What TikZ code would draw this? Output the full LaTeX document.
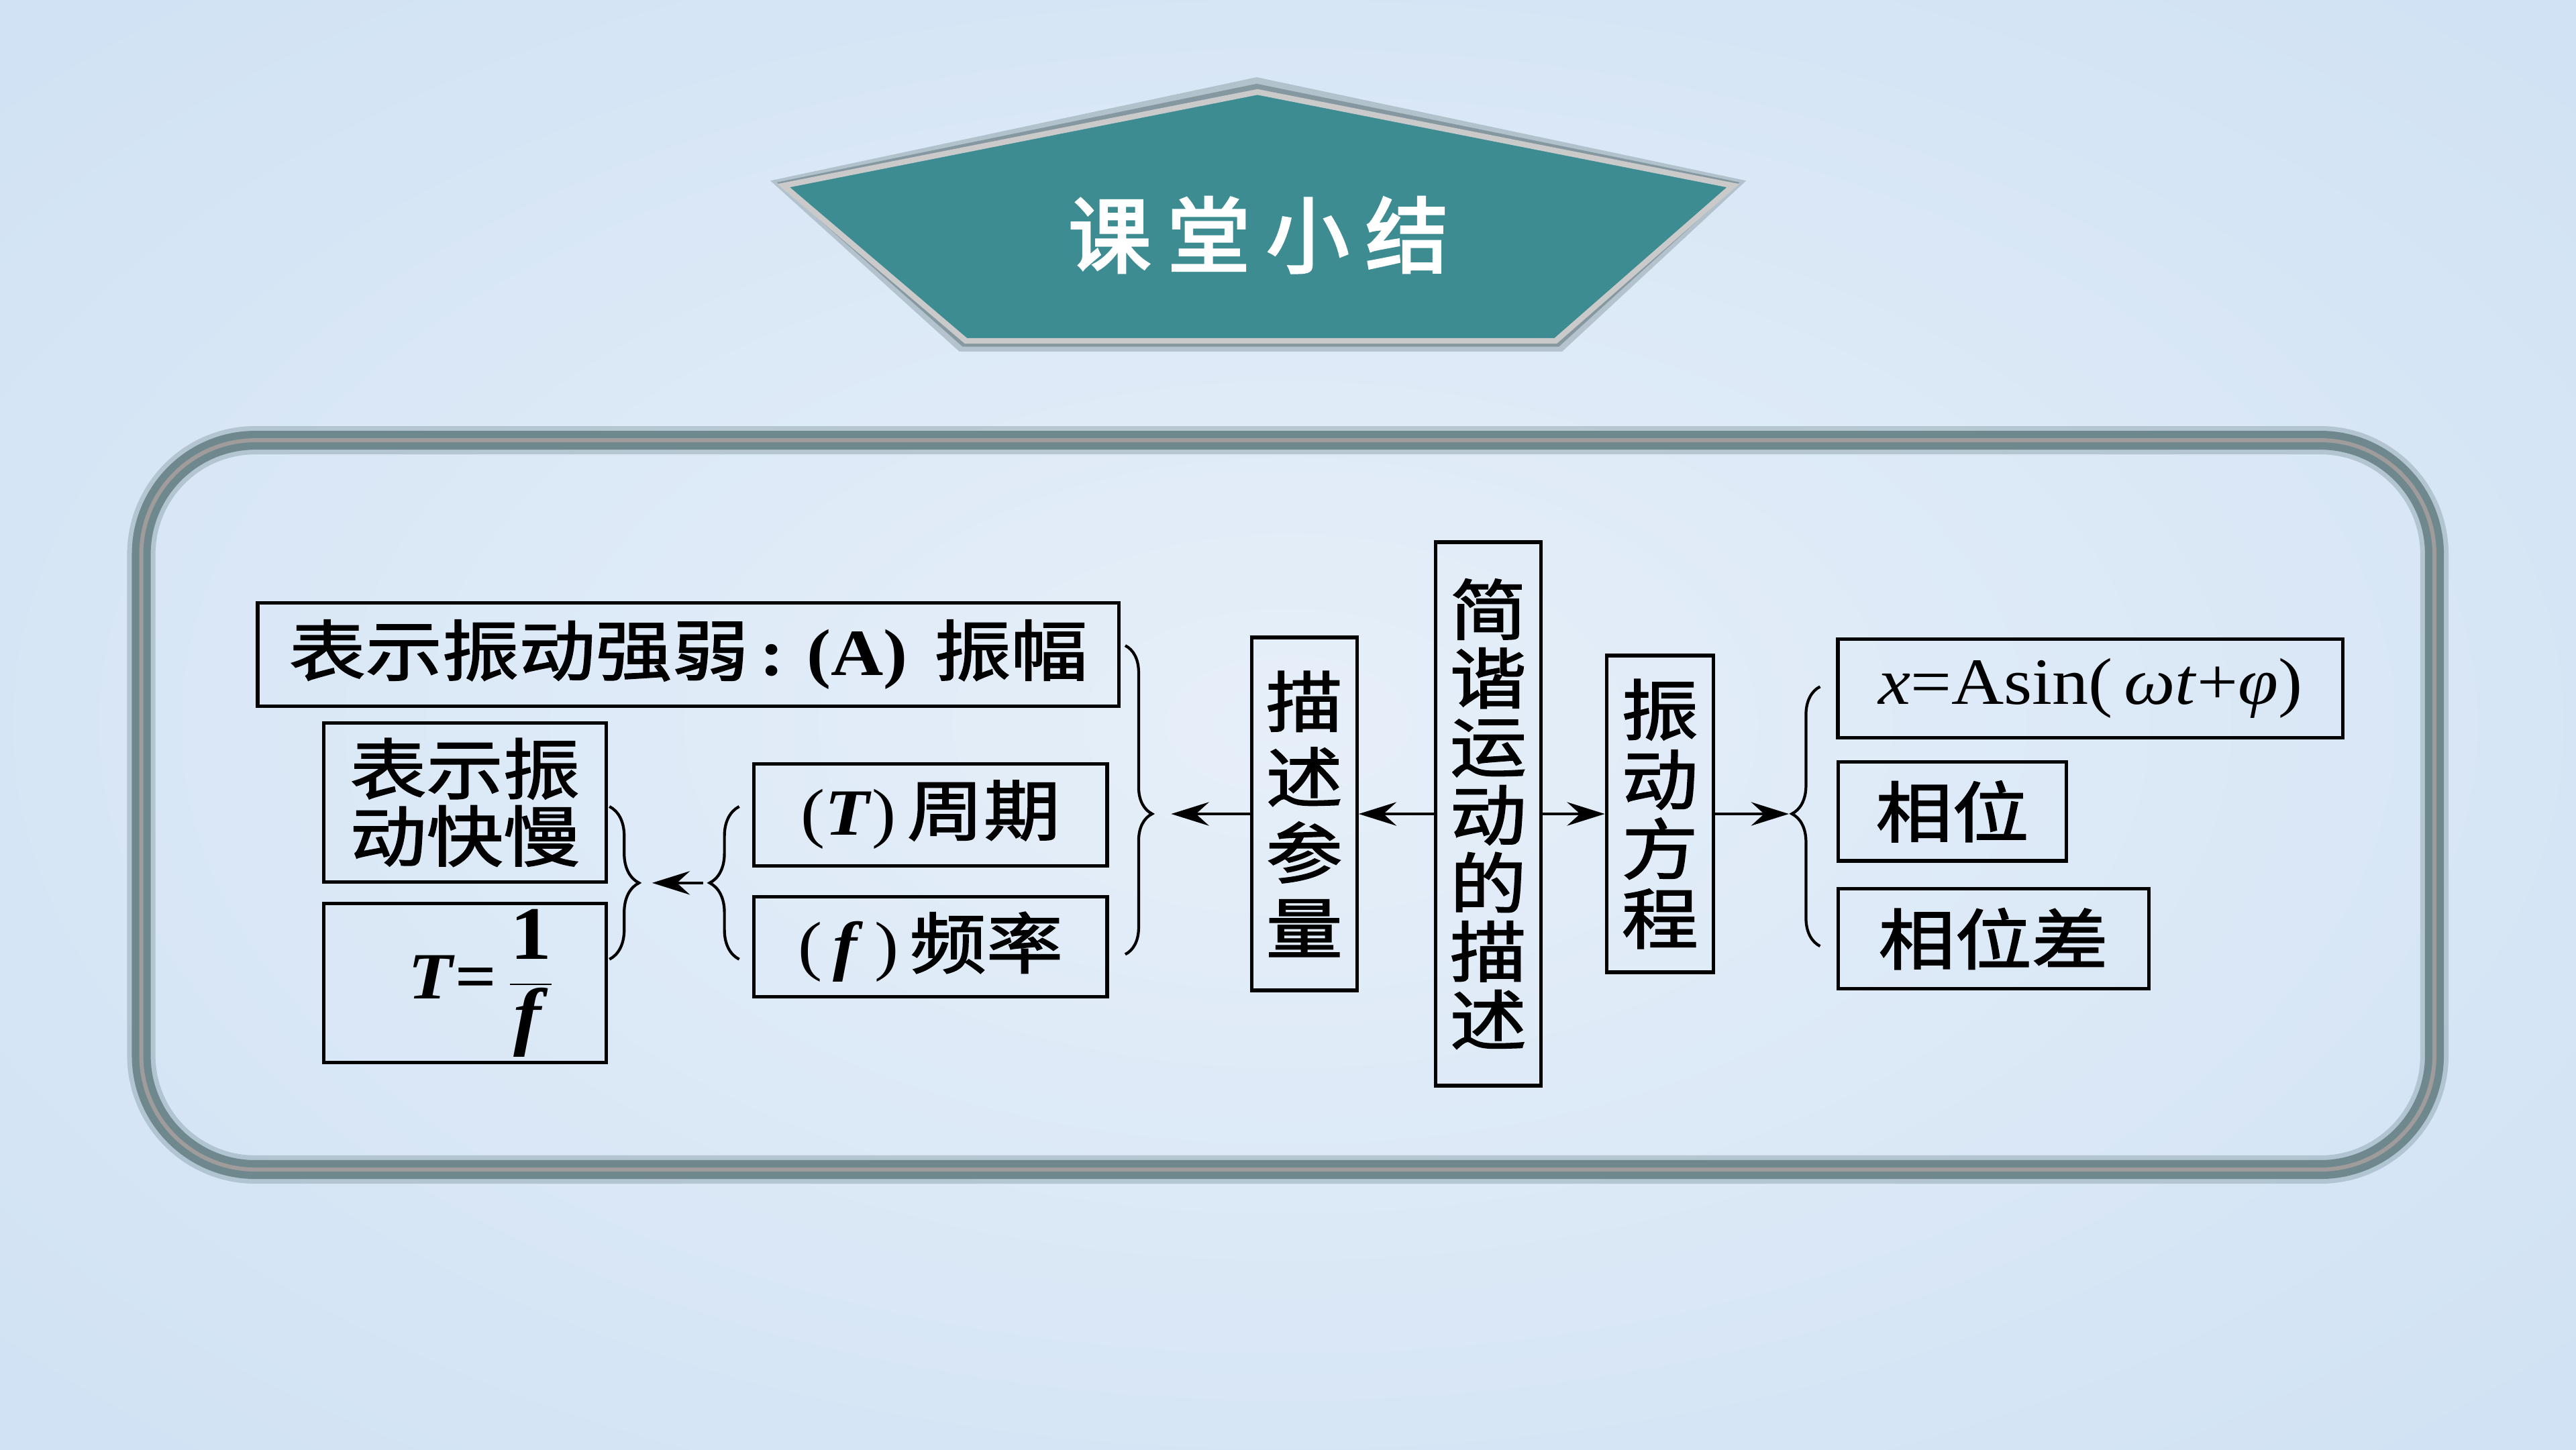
\documentclass[tikz,border=0pt]{standalone}
\usepackage{fontspec}
\setmainfont[FakeStretch=1.1]{Liberation Serif}
\newfontfamily\cjk[FakeStretch=1.16,FakeBold=1.8]{Noto Sans CJK SC}
\newfontfamily\cjkttl[FakeBold=3]{Noto Sans CJK SC}
\usetikzlibrary{arrows.meta,decorations.pathreplacing}
\definecolor{bgIn}{RGB}{230,239,249}
\definecolor{bgOut}{RGB}{194,217,240}
\definecolor{tealc}{RGB}{60,140,146}
\definecolor{pentBorder}{RGB}{202,202,202}
\definecolor{shadowc}{RGB}{105,125,130}
\definecolor{frameDark}{RGB}{110,136,142}
\definecolor{frameLight}{RGB}{160,156,156}
\newcommand\bfnt{\fontsize{28}{30}\selectfont}
\tikzset{
  box/.style={draw=black, line width=1.5pt, inner sep=0pt, align=center, text=black},
  arr/.style={line width=1.1pt, -{Stealth[length=16pt,width=10pt,inset=5.5pt]}},
  brc/.style={line width=1.2pt, decorate},
}
\begin{document}
\begin{tikzpicture}[x=0.02448cm, y=-0.02448cm]
\useasboundingbox (0,0) rectangle (1568.2,882.35);
% background
\begin{scope}
\clip (0,0) rectangle (1568.2,882.35);
\shade[inner color=bgIn, outer color=bgOut] (784,441) ellipse [x radius=44cm, y radius=25cm];
\end{scope}
% title pentagon
\fill[shadowc, opacity=0.35, line join=round] (765,47)--(1063,110)--(951,214)--(584,214)--(469,110)--cycle;
\fill[shadowc, opacity=0.6, line join=round] (765,51)--(1059,111)--(949,211)--(586,211)--(473,111)--cycle;
\filldraw[fill=tealc, draw=pentBorder, line width=2.4pt] (765.5,56)--(1055,113)--(947,207.5)--(588,207.5)--(477,113)--cycle;
\node[text=white, font=\cjkttl\fontsize{35}{35}\selectfont] (ttl) at (766,143) {课\hspace{7pt}堂\hspace{7pt}小\hspace{7pt}结};
% rounded frame
\draw[frameDark, line width=12pt, opacity=0.35, rounded corners=1.7cm] (86,268) rectangle (1482,712);
\draw[frameDark, line width=8pt, rounded corners=1.7cm] (86,268) rectangle (1482,712);
\draw[frameLight, line width=1.7pt, rounded corners=1.7cm] (86,268) rectangle (1482,712);
% boxes
\node[box, minimum width=12.83cm, minimum height=1.54cm, font=\bfnt] (amp) at (419,398.5)
  {{\cjk 表示振动强弱}\,\textbf{:}\hspace{0.35em}\textbf{(A)}\hspace{0.4em}{\cjk 振幅}};
\node[box, minimum width=4.21cm, minimum height=2.37cm, font=\cjk\fontsize{28}{28.5}\selectfont] (speed) at (283,488.5)
  {表示振\\动快慢};
\node[box, minimum width=4.21cm, minimum height=2.37cm, font=\bfnt] (form) at (283,598.5)
  {\hspace{0.5em}\textbf{\textit{T}}\textbf{=}\,{\fontsize{32}{34}\selectfont$\displaystyle\frac{\textbf{1}}{\textbf{\textit{f}}}$}};
\node[box, minimum width=5.26cm, minimum height=1.52cm, font=\bfnt] (per) at (566.5,496)
  {(\textbf{\textit{T}})\,{\cjk 周期}};
\node[box, minimum width=5.26cm, minimum height=1.49cm, font=\bfnt] (freq) at (566.5,576.5)
  {(\,\textbf{\textit{f}}\,)\,{\cjk 频率}};
\node[box, minimum width=1.57cm, minimum height=5.26cm, font=\cjk\fontsize{28}{32}\selectfont] (param) at (794,495.5)
  {描\\述\\参\\量};
\node[box, minimum width=1.57cm, minimum height=8.10cm, font=\cjk\fontsize{28}{29}\selectfont] (core) at (906,495.5)
  {简\\谐\\运\\动\\的\\描\\述};
\node[box, minimum width=1.59cm, minimum height=4.72cm, font=\cjk\fontsize{28}{29.5}\selectfont] (eqn) at (1010.5,495.5)
  {振\\动\\方\\程};
\node[box, minimum width=7.52cm, minimum height=1.47cm, font=\bfnt] (sol) at (1272.5,419)
  {\textit{x}=Asin(\,\textit{ωt}+\textit{φ})};
\node[box, minimum width=3.40cm, minimum height=1.47cm, font=\cjk\fontsize{28}{30}\selectfont] (ph) at (1188.5,494)
  {相位};
\node[box, minimum width=4.63cm, minimum height=1.49cm, font=\cjk\fontsize{28}{30}\selectfont] (phd) at (1213.5,571.5)
  {相位差};
% braces
\draw[brc, decoration={brace, amplitude=0.4cm, aspect=0.545}] (685,393) -- (685,581);
\draw[brc, decoration={brace, amplitude=0.44cm, aspect=0.5}] (450,584) -- (450,491);
\draw[brc, decoration={brace, amplitude=0.44cm, aspect=0.5}] (371,491) -- (371,584);
\draw[brc, decoration={brace, amplitude=0.42cm, aspect=0.51}] (1108,576) -- (1108,418);
% coordinates for free ends
\coordinate (tipL) at (713,495.5);
\coordinate (tipR) at (1089,495.5);
\coordinate (sbr) at (428,537.5);
\coordinate (sbl) at (397,537.5);
% connectors
\draw[arr] (core.west) -- (param.east);
\draw[arr] (param.west) -- (tipL);
\draw[arr] (core.east) -- (eqn.west);
\draw[arr] (eqn.east) -- (tipR);
\draw[arr] (sbr) -- (sbl);
\end{tikzpicture}
\end{document}
